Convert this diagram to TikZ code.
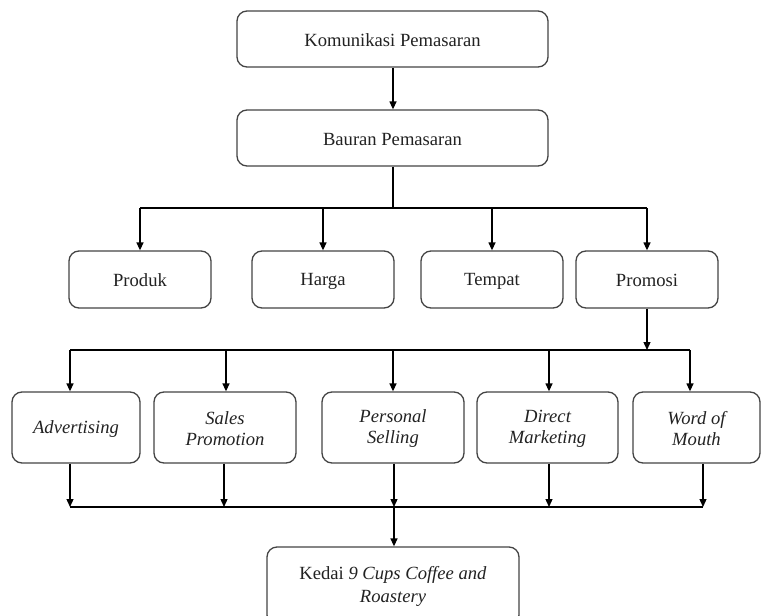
\documentclass[tikz,border=0pt]{standalone}
\usepackage{fontspec}
\setmainfont{Liberation Serif}
\usetikzlibrary{arrows.meta}
\definecolor{boxline}{HTML}{444444}
\definecolor{txt}{HTML}{222222}
\newcommand\tstrut{\rule[-0.6pt]{0pt}{16pt}}
\tikzset{
  box/.style={draw=boxline, line width=1.3pt, rounded corners=10pt, align=center,
    text=txt, font=\fontsize{18.6}{21.5}\selectfont, inner sep=2pt},
  wide/.style={box, minimum width=311pt, minimum height=56pt},
  mid/.style={box, minimum width=142pt, minimum height=57pt},
  low/.style={box, minimum height=71pt, font=\fontsize{18.6}{21.5}\selectfont\itshape},
  conn/.style={line width=1.3pt, draw=black},
  arr/.style={conn, -{Triangle[width=7pt,length=8pt]}}
}
\begin{document}
\begin{tikzpicture}[x=1pt,y=-1pt]
\useasboundingbox (0,0) rectangle (761,616);
\clip (0,0) rectangle (761,616);
\fill[white] (0,0) rectangle (761,616);
% boxes
\node[wide] (kom) at (392.5,39) {\tstrut Komunikasi Pemasaran};
\node[wide] (bau) at (392.5,138) {\tstrut Bauran Pemasaran};
\node[mid] (produk) at (140,279.5) {\tstrut Produk};
\node[mid] (harga) at (323,279.5) {\tstrut Harga};
\node[mid] (tempat) at (492,279.5) {\tstrut Tempat};
\node[mid] (promosi) at (647,279.5) {\tstrut Promosi};
\node[low, minimum width=128pt] (adv) at (76,427.5) {\tstrut Advertising};
\node[low, minimum width=142pt] (sales) at (225,427.5) {\tstrut Sales\\\tstrut Promotion};
\node[low, minimum width=142pt] (pers) at (393,427.5) {\tstrut Personal\\\tstrut Selling};
\node[low, minimum width=141pt] (direct) at (547.5,427.5) {\tstrut Direct\\\tstrut Marketing};
\node[low, minimum width=127pt] (word) at (696.5,427.5) {\tstrut Word of\\\tstrut Mouth};
\node[box, minimum width=252pt, minimum height=78pt, font=\fontsize{18.6}{23}\selectfont] (kedai) at (393,586)
  {\strut Kedai \textit{9 Cups Coffee and}\\\strut\textit{Roastery}};
% junction coordinates
\coordinate (j1) at (393,208);
\coordinate (t1) at (70,350);
\coordinate (t2) at (226,350);
\coordinate (t3) at (393,350);
\coordinate (t4) at (549,350);
\coordinate (t5) at (690,350);
\coordinate (b1) at (70,507);
\coordinate (b2) at (224,507);
\coordinate (b3) at (394,507);
\coordinate (b4) at (549,507);
\coordinate (b5) at (703,507);
% connectors
\draw[arr] (kom.south -| j1) -- (bau.north -| j1);
\draw[conn] (bau.south -| j1) -- (j1);
\draw[conn] (j1 -| produk) -- (j1 -| promosi);
\draw[arr] (j1 -| produk) -- (produk.north);
\draw[arr] (j1 -| harga) -- (harga.north);
\draw[arr] (j1 -| tempat) -- (tempat.north);
\draw[arr] (j1 -| promosi) -- (promosi.north);
\draw[arr] (promosi.south) -- (promosi.south |- t1);
\draw[conn] (t1) -- (t5);
\draw[arr] (t1) -- (t1 |- adv.north);
\draw[arr] (t2) -- (t2 |- sales.north);
\draw[arr] (t3) -- (t3 |- pers.north);
\draw[arr] (t4) -- (t4 |- direct.north);
\draw[arr] (t5) -- (t5 |- word.north);
\draw[arr] (b1 |- adv.south) -- (b1);
\draw[arr] (b2 |- sales.south) -- (b2);
\draw[arr] (b3 |- pers.south) -- (b3);
\draw[arr] (b4 |- direct.south) -- (b4);
\draw[arr] (b5 |- word.south) -- (b5);
\draw[conn] (b1) -- (b5);
\draw[arr] (b3) -- (kedai.north -| b3);
\end{tikzpicture}
\end{document}
